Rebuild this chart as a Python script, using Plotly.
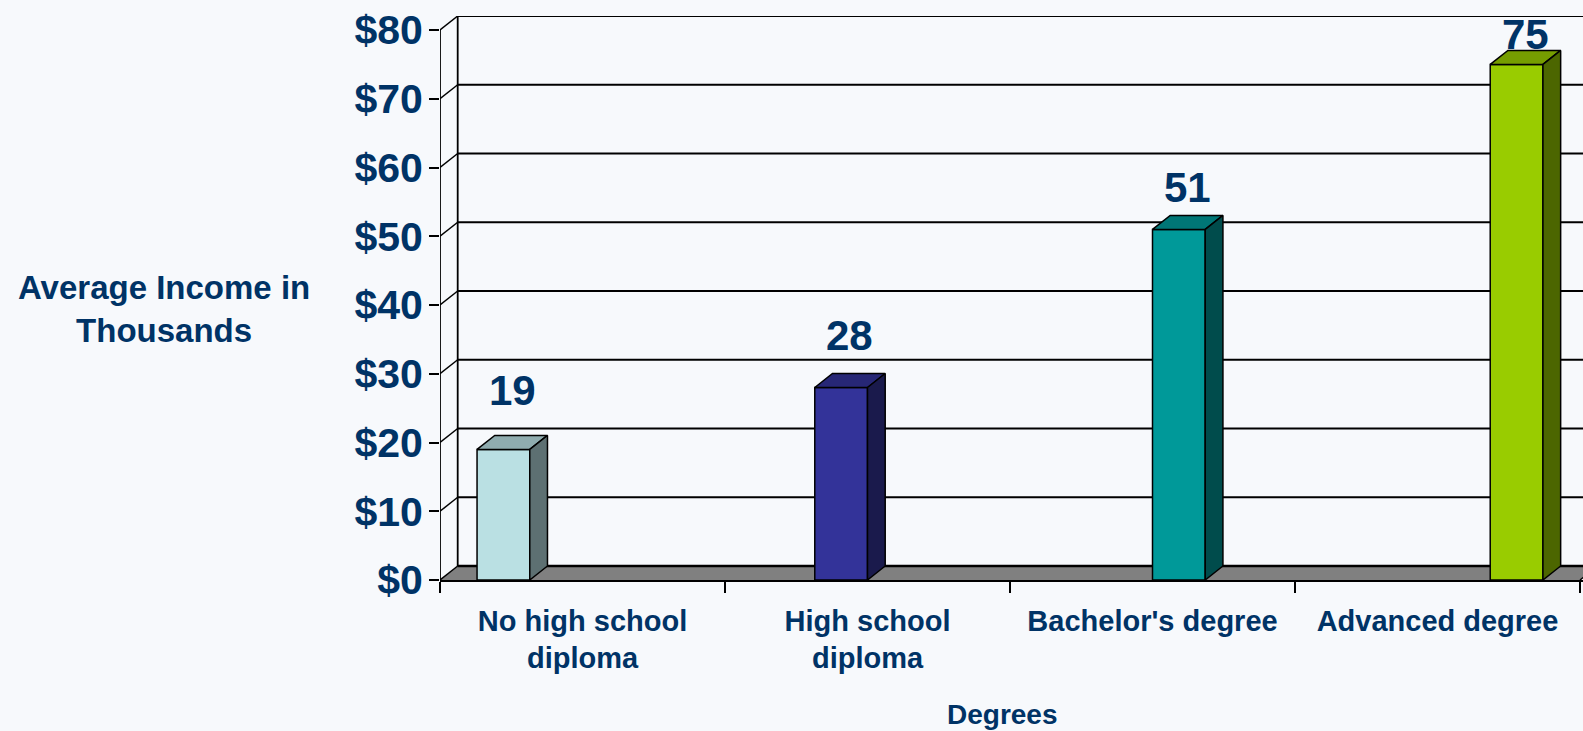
import plotly.graph_objects as go

# ---------------- data ----------------
categories = ["No high school<br>diploma", "High school<br>diploma",
              "Bachelor's degree", "Advanced degree"]
values = [19, 28, 51, 75]
y_tick_values = [0, 10, 20, 30, 40, 50, 60, 70, 80]
y_tick_labels = ["$0", "$10", "$20", "$30", "$40", "$50", "$60", "$70", "$80"]
bar_colors = ["#BAE0E3", "#333399", "#009999", "#99CC00"]
y_title = "Average Income in<br>Thousands"
x_title = "Degrees"

# ---------------- layout constants ----------------
W, H = 1583, 731
ML, MR, MT, MB = 440, 0, 16, 151
CAT_PX = 285.0          # pixels per category
UNIT_PX = 6.875         # pixels per value unit
DEPTH_PX = (17.7, 14.0)  # 3-D depth offset (right, up)
plot_w = W - ML - MR
plot_h = H - MT - MB
X_MAX = plot_w / CAT_PX
Y_MAX = plot_h / UNIT_PX
DX = DEPTH_PX[0] / CAT_PX
DY = DEPTH_PX[1] / UNIT_PX
GAP = 0.26
N = len(values)
BW = (1 - GAP) / N
LABEL_LIFT = [8.6, 7.5, 6.1, 4.4]

TEXT = "#003366"
BG = "#F7F9FC"
FONT = "Liberation Sans, Arial, sans-serif"
EDGE = 1.5


def shade(hex_color, k):
    h = hex_color.lstrip("#")
    r, g, b = (int(h[i:i + 2], 16) for i in (0, 2, 4))
    return "rgb(%d,%d,%d)" % (round(r * k), round(g * k), round(b * k))


fig = go.Figure()

# front faces
for i, (v, c) in enumerate(zip(values, bar_colors)):
    left = i + GAP / 2 + i * BW
    fig.add_trace(go.Bar(
        x=[left + BW / 2], y=[v], width=BW,
        marker=dict(color=c, line=dict(color="black", width=EDGE)),
        showlegend=False, hoverinfo="skip"))

# top and side faces
for i, (v, c) in enumerate(zip(values, bar_colors)):
    left = i + GAP / 2 + i * BW
    right = left + BW
    fig.add_trace(go.Scatter(
        x=[left, right, right + DX, left + DX, left],
        y=[v, v, v + DY, v + DY, v],
        fill="toself", fillcolor=shade(c, 0.77), mode="lines",
        line=dict(color="black", width=EDGE), showlegend=False, hoverinfo="skip"))
    fig.add_trace(go.Scatter(
        x=[right, right + DX, right + DX, right, right],
        y=[0, DY, v + DY, v, 0],
        fill="toself", fillcolor=shade(c, 0.5), mode="lines",
        line=dict(color="black", width=EDGE), showlegend=False, hoverinfo="skip"))

shapes = []
# floor
shapes.append(dict(type="path", xref="x", yref="y", layer="below",
                   path="M 0 0 L %f 0 L %f %f L %f %f Z" % (N, N + DX, DY, DX, DY),
                   fillcolor="#808080", line=dict(width=0)))
shapes.append(dict(type="line", xref="x", yref="y", layer="below",
                   x0=N, y0=0, x1=N + DX, y1=DY, line=dict(color="black", width=EDGE)))
# back-wall gridlines and side-wall diagonals
for t in y_tick_values:
    shapes.append(dict(type="line", xref="x", yref="y", layer="below",
                       x0=DX, y0=t + DY, x1=X_MAX, y1=t + DY,
                       line=dict(color="black", width=2.6 if t == 0 else 1.8)))
    shapes.append(dict(type="line", xref="x", yref="y", layer="below",
                       x0=0, y0=t, x1=DX, y1=t + DY,
                       line=dict(color="black", width=EDGE)))
# wall edges
top = y_tick_values[-1]
shapes.append(dict(type="line", xref="x", yref="y", layer="below",
                   x0=0, y0=0, x1=0, y1=top, line=dict(color="black", width=1.8)))
shapes.append(dict(type="line", xref="x", yref="y", layer="below",
                   x0=DX, y0=DY, x1=DX, y1=top + DY, line=dict(color="black", width=1.8)))

annotations = []
for i, v in enumerate(values):
    left = i + GAP / 2 + i * BW
    annotations.append(dict(
        x=left + BW / 2 + DX / 2, y=v + LABEL_LIFT[i], xref="x", yref="y",
        text=str(v), showarrow=False, xanchor="center", yanchor="middle",
        font=dict(family=FONT, size=42, color=TEXT, weight="bold")))

annotations.append(dict(
    x=(164 - ML) / plot_w, y=(H - MB - 309) / plot_h,
    xref="paper", yref="paper", text=y_title, showarrow=False,
    xanchor="center", yanchor="middle", align="center",
    font=dict(family=FONT, size=33, color=TEXT, weight="bold")))
annotations.append(dict(
    x=(1002 - ML) / plot_w, y=(H - MB - 714) / plot_h,
    xref="paper", yref="paper", text=x_title, showarrow=False,
    xanchor="center", yanchor="middle",
    font=dict(family=FONT, size=28, color=TEXT, weight="bold")))

fig.update_layout(
    width=W, height=H,
    margin=dict(l=ML, r=MR, t=MT, b=MB, pad=0),
    paper_bgcolor=BG, plot_bgcolor=BG,
    barmode="overlay",
    showlegend=False,
    shapes=shapes,
    annotations=annotations,
    xaxis=dict(
        range=[0, X_MAX], showgrid=False, zeroline=False,
        showline=True, linecolor="black", linewidth=EDGE,
        tickmode="array", tickvals=[i + 0.5 for i in range(N)], ticktext=categories,
        ticks="outside", ticklen=14, tickcolor="rgba(0,0,0,0)",
        tickfont=dict(family=FONT, size=29, color=TEXT, weight="bold"),
        minor=dict(tickmode="array", tickvals=list(range(N + 1)), ticks="outside",
                   ticklen=11, tickwidth=EDGE, tickcolor="black", showgrid=False),
        fixedrange=True),
    yaxis=dict(
        range=[0, Y_MAX], showgrid=False, zeroline=False, showline=False,
        tickmode="array", tickvals=y_tick_values, ticktext=y_tick_labels,
        ticks="outside", ticklen=10, tickwidth=EDGE, tickcolor="black",
        ticklabelstandoff=-2,
        tickfont=dict(family=FONT, size=41, color=TEXT, weight="bold"),
        fixedrange=True),
)

fig.write_html("out.html", config={"displayModeBar": False})
